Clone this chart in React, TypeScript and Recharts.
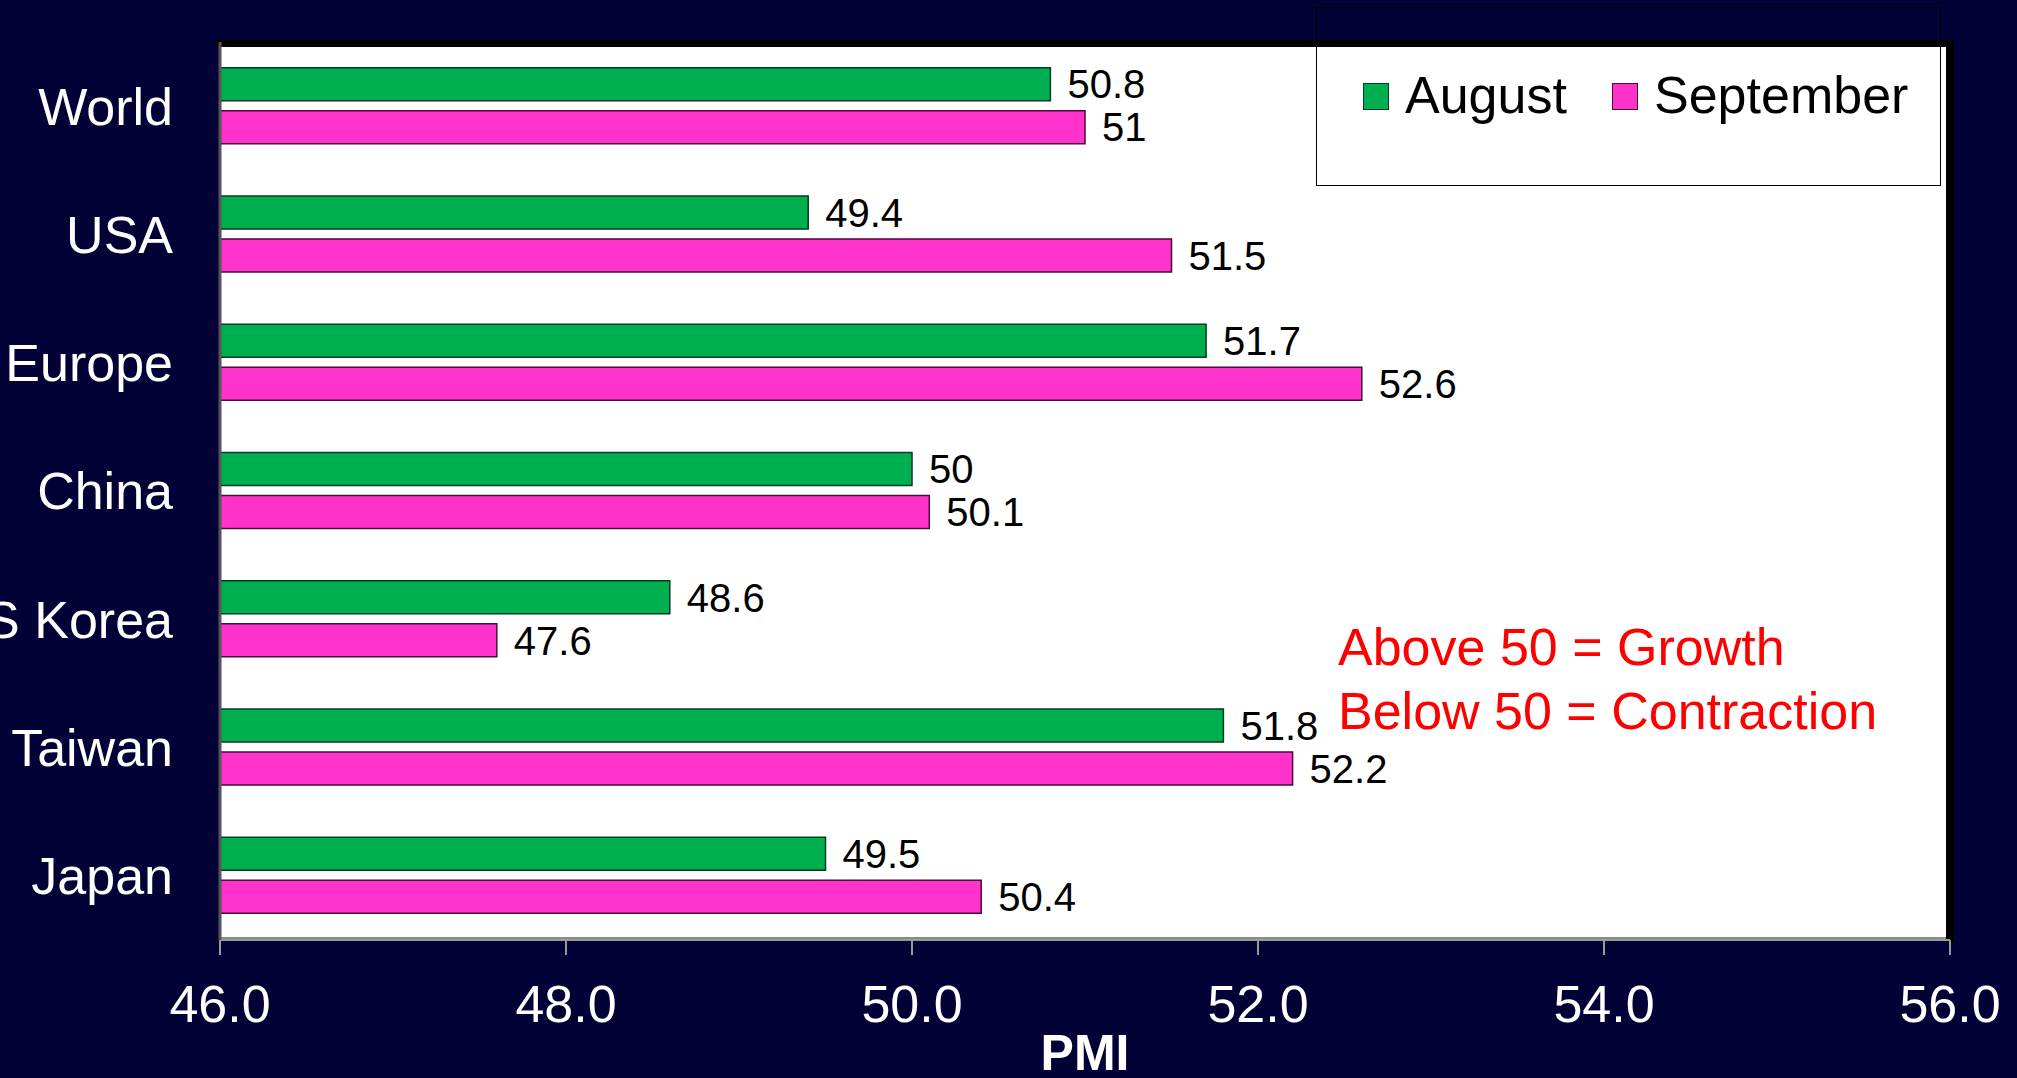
import React from 'react';
import { BarChart, Bar, XAxis, YAxis, LabelList, Label } from 'recharts';

const categories = ['World', 'USA', 'Europe', 'China', 'S Korea', 'Taiwan', 'Japan'];
const august = [50.8, 49.4, 51.7, 50, 48.6, 51.8, 49.5];
const september = [51, 51.5, 52.6, 50.1, 47.6, 52.2, 50.4];
const xTicks = [46, 48, 50, 52, 54, 56];
const seriesNames = ['August', 'September'];
const seriesKeys = ['august', 'september'];
const seriesFill = ['#00B050', '#FF33CC'];
const seriesStroke = ['#003d1c', '#4a0a3a'];
const noteLines = ['Above 50 = Growth', 'Below 50 = Contraction'];

const data = categories.map((c, i) => ({ name: c, august: august[i], september: september[i] }));

const FONT = '"Liberation Sans", Arial, Helvetica, sans-serif';

export default function App() {
  return (
    <div
      style={{
        position: 'absolute',
        left: 0,
        top: 0,
        width: 2017,
        height: 1078,
        background: '#020237',
        fontFamily: FONT,
        overflow: 'hidden',
      }}
    >
      {/* plot frame */}
      <div style={{ position: 'absolute', left: 220, top: 44, width: 1727, height: 893, background: '#ffffff' }} />
      <div style={{ position: 'absolute', left: 220, top: 937, width: 1727, height: 2, background: '#8a8a8a' }} />
      <div style={{ position: 'absolute', left: 216, top: 40, width: 1738, height: 7, background: '#000000' }} />
      <div style={{ position: 'absolute', left: 1946, top: 40, width: 8, height: 902, background: '#000000' }} />

      <div style={{ position: 'absolute', left: 0, top: 0 }}>
        <BarChart
          width={2017}
          height={1078}
          data={data}
          layout="vertical"
          margin={{ top: 42, right: 67, bottom: 0, left: 0 }}
          barCategoryGap="20%"
          barGap={10}
        >
          <XAxis
            type="number"
            domain={[46, 56]}
            ticks={xTicks}
            tickFormatter={(v: number) => v.toFixed(1)}
            tick={{ fill: '#ffffff', fontSize: 52 }}
            axisLine={{ stroke: '#9a9a9a', strokeWidth: 2 }}
            tickLine={{ stroke: '#9a9a9a', strokeWidth: 2 }}
            tickSize={15}
            tickMargin={30}
            height={138}
            allowDataOverflow
          >
            <Label value="PMI" position="insideBottom" offset={8} fill="#ffffff" fontSize={50} fontWeight="bold" />
          </XAxis>
          <YAxis
            type="category"
            dataKey="name"
            width={220}
            interval={0}
            tick={{ fill: '#ffffff', fontSize: 52 }}
            tickLine={false}
            axisLine={{ stroke: '#555555', strokeWidth: 3 }}
            tickSize={0}
            tickMargin={47}
          />
          {seriesKeys.map((k, i) => (
            <Bar
              key={k}
              dataKey={k}
              name={seriesNames[i]}
              fill={seriesFill[i]}
              stroke={seriesStroke[i]}
              strokeWidth={1.5}
              isAnimationActive={false}
            >
              <LabelList dataKey={k} position="right" offset={17} fill="#000000" fontSize={40} />
            </Bar>
          ))}
        </BarChart>
      </div>

      {/* legend */}
      <div
        style={{
          position: 'absolute',
          left: 1316,
          top: 7,
          width: 625,
          height: 179,
          border: '1.5px solid #000',
          boxSizing: 'border-box',
        }}
      >
        {seriesNames.map((n, i) => (
          <React.Fragment key={n}>
            <div
              style={{
                position: 'absolute',
                left: i === 0 ? 46 : 295,
                top: 75,
                width: 26,
                height: 27,
                background: seriesFill[i],
                border: '1.5px solid ' + seriesStroke[i],
                boxSizing: 'border-box',
              }}
            />
            <div
              style={{
                position: 'absolute',
                left: i === 0 ? 88 : 337,
                top: 61,
                fontSize: 52,
                lineHeight: '52px',
                color: '#000',
                whiteSpace: 'nowrap',
              }}
            >
              {n}
            </div>
          </React.Fragment>
        ))}
      </div>

      {/* note */}
      <div style={{ position: 'absolute', left: 1338, top: 615, color: '#ff0000', fontSize: 52, lineHeight: '64px', whiteSpace: 'nowrap' }}>
        {noteLines.map((l) => (
          <div key={l}>{l}</div>
        ))}
      </div>
    </div>
  );
}
